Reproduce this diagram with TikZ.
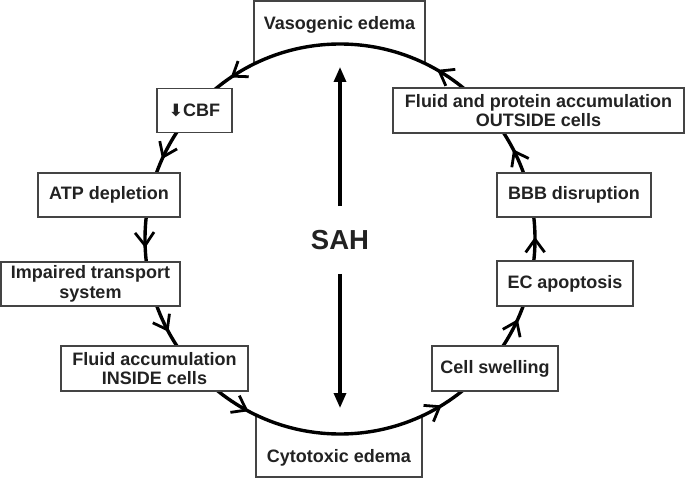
\documentclass[tikz,border=0pt]{standalone}
\usepackage{fontspec}
\setmainfont{Liberation Sans}
\newfontfamily\symfont{DejaVu Sans}
\usetikzlibrary{arrows.meta, decorations.markings}
\definecolor{boxgrey}{HTML}{444444}
\definecolor{textgrey}{HTML}{222222}

\begin{document}
\begin{tikzpicture}[x=1pt, y=1pt,
    state/.style={rectangle, draw=boxgrey, line width=1.2pt, fill=white, inner sep=0pt, align=center, text=textgrey, font=\fontsize{18}{19.5}\selectfont\bfseries},
    barb/.tip={Straight Barb[length=13pt, width=19pt, line width=2.8pt]},
    cycle mark/.style={postaction={decorate, decoration={markings, mark=at position #1/360 with {\arrow{barb}}}}},
    sah arrow/.style={-{Triangle[length=15pt, width=12pt]}, line width=3.2pt}]

    \useasboundingbox (0,0) rectangle (685,480);

    % the two edema boxes, their inner part is hidden by the circle
    \node[state, anchor=north, minimum width=171pt, text height=28.9pt, text depth=50.6pt] (vaso) at (339.5,479.5) {Vasogenic edema};
    \node[state, anchor=south, minimum width=166pt, text height=63.4pt, text depth=14.6pt] (cyto) at (339,2.5) {Cytotoxic edema};

    % the cycle
    \coordinate (c) at (340,241);
    \draw[line width=3.4pt, fill=white, cycle mark=124.1, cycle mark=155.8, cycle mark=182.6, cycle mark=208.4, cycle mark=242,
        cycle mark=301.4, cycle mark=335.7, cycle mark=0.6, cycle mark=27.4, cycle mark=60.1] (c) circle[radius=195pt];

    % left side
    \node[state, minimum width=75pt, minimum height=44pt] (cbf) at (194.5,369.5) {{\symfont\bfseries\fontsize{17}{17}\selectfont ⬇}CBF};
    \node[state, minimum width=142pt, minimum height=44pt] (atp) at (109,285) {ATP depletion};
    \node[state, minimum width=179pt, minimum height=44pt] (imp) at (90.5,196) {Impaired transport\\system};
    \node[state, minimum width=187pt, minimum height=45pt] (inside) at (154.5,111.5) {Fluid accumulation\\INSIDE cells};

    % right side
    \node[state, minimum width=126pt, minimum height=45pt] (swell) at (495,111.5) {Cell swelling};
    \node[state, minimum width=136pt, minimum height=45pt] (ec) at (565,196.5) {EC apoptosis};
    \node[state, minimum width=154pt, minimum height=44pt] (bbb) at (574,285) {BBB disruption};
    \node[state, minimum width=291pt, minimum height=45pt] (outside) at (538.5,369.5) {Fluid and protein accumulation\\OUTSIDE cells};

    % SAH in the middle
    \node[font=\fontsize{27.5}{30}\selectfont\bfseries, text=textgrey, inner xsep=0pt, inner ysep=24pt] (sah) at (340,240) {SAH};
    \coordinate (uptip) at (340,413);
    \coordinate (downtip) at (340,72);
    \draw[sah arrow] (sah) -- (uptip);
    \draw[sah arrow] (sah) -- (downtip);
\end{tikzpicture}
\end{document}
